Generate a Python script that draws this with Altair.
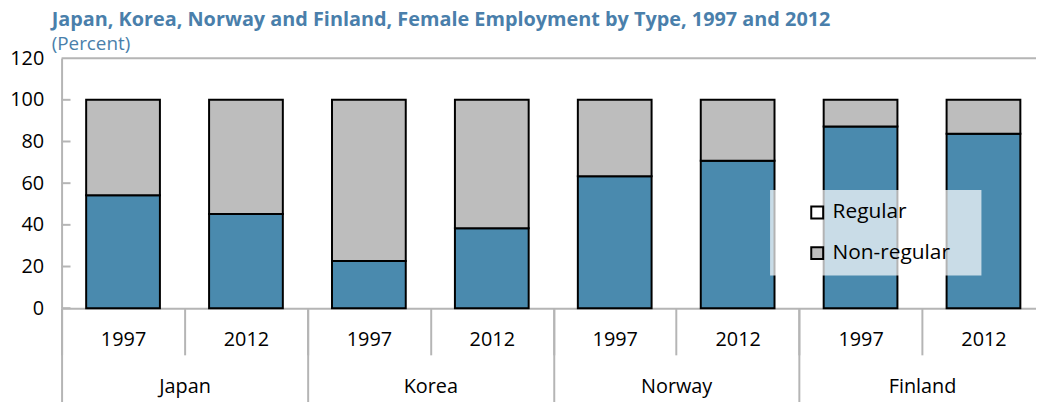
import altair as alt
import pandas as pd

countries = ["Japan", "Korea", "Norway", "Finland"]
years = ["1997", "2012"]
regular = [54.2, 45.2, 22.6, 38.4, 63.3, 70.8, 87.2, 83.7]
non_regular = [45.8, 54.8, 77.4, 61.6, 36.7, 29.2, 12.8, 16.3]
types = ["Regular", "Non-regular"]
bar_colors = ["#4a8aae", "#bdbdbd"]
legend_colors = ["#ffffff", "#bdbdbd"]
y_ticks = [0, 20, 40, 60, 80, 100, 120]

FONT = "Open Sans"
GRAY = "#b5b5b5"
TITLE_BLUE = "#4a7fab"
FS = 20

keys = []
rows = []
i = 0
for c in countries:
    for y in years:
        k = f"{c}|{y}"
        keys.append(k)
        rows.append({"key": k, "type": types[0], "value": regular[i], "order": 0})
        rows.append({"key": k, "type": types[1], "value": non_regular[i], "order": 1})
        i += 1
df = pd.DataFrame(rows)

X_RANGE = [0, 991]
Y_SCALE = alt.Scale(domain=[0, 120], nice=False)


def y_axis():
    return alt.Axis(
        title=None, values=y_ticks, ticks=False, grid=False,
        domainColor=GRAY, domainWidth=2, labelPadding=18,
        labelFont=FONT, labelFontSize=FS, labelColor="black",
    )


bars = alt.Chart(df).mark_bar(
    stroke="black", strokeWidth=2, width=alt.RelativeBandSize(0.6)
).encode(
    x=alt.X(
        "key:N", sort=keys,
        scale=alt.Scale(range=X_RANGE, paddingInner=0, paddingOuter=0),
        axis=alt.Axis(
            title=None, labelExpr="split(datum.label, '|')[1]", labelAngle=0,
            tickBand="extent", tickSize=47, tickColor=GRAY, tickWidth=2,
            domainColor=GRAY, domainWidth=2, labelPadding=-15,
            labelBaseline="middle", labelFont=FONT, labelFontSize=FS,
            labelColor="black", labelOverlap=False,
        ),
    ),
    y=alt.Y("value:Q", stack="zero", scale=Y_SCALE, axis=y_axis()),
    fill=alt.Fill("type:N", scale=alt.Scale(domain=types, range=bar_colors), legend=None),
    order=alt.Order("order:Q"),
)

country_layer = alt.Chart(pd.DataFrame({"country": countries})).mark_rule(opacity=0).encode(
    x=alt.X(
        "country:N", sort=countries,
        scale=alt.Scale(range=X_RANGE, paddingInner=0, paddingOuter=0),
        axis=alt.Axis(
            title=None, orient="bottom", domain=False, labelAngle=0,
            tickBand="extent", tickSize=95, tickColor=GRAY, tickWidth=2,
            labelPadding=-16, labelBaseline="middle", labelFont=FONT,
            labelFontSize=FS, labelColor="black", labelOverlap=False,
        ),
    )
)

ytick_layer = alt.Chart(pd.DataFrame({"value": y_ticks[:-1]})).mark_rule(
    color=GRAY, strokeWidth=2
).encode(
    y=alt.Y("value:Q", scale=Y_SCALE, axis=y_axis()),
    x=alt.value(0), x2=alt.value(9),
)

top_border = alt.Chart(pd.DataFrame({"value": [y_ticks[-1]]})).mark_rule(
    color=GRAY, strokeWidth=2
).encode(
    y=alt.Y("value:Q", scale=Y_SCALE, axis=y_axis()),
)

legend_layer = alt.Chart(pd.DataFrame({"type": types})).mark_square(opacity=0, size=144).encode(
    fill=alt.Fill(
        "type:N", sort=types,
        scale=alt.Scale(domain=types, range=legend_colors),
        legend=alt.Legend(
            title="MM", titleOrient="right", titleOpacity=0, titleFontSize=12,
            titlePadding=0,
            orient="none", legendX=714, legendY=133,
            fillColor="rgba(255,255,255,0.7)", padding=12,
            symbolOffset=25, labelOffset=5, rowPadding=19,
            symbolType="square", symbolSize=144, symbolOpacity=1,
            symbolStrokeColor="black", symbolStrokeWidth=2,
            labelFont=FONT, labelFontSize=21, labelColor="black",
        ),
    )
)

chart = alt.layer(bars, country_layer, ytick_layer, top_border, legend_layer).resolve_scale(
    x="independent", fill="independent"
).properties(
    width=982,
    height=252,
    autosize=alt.AutoSizeParams(type="none"),
    padding={"left": 54, "top": 49, "right": 0, "bottom": 93},
    title=alt.Title(
        text="Japan, Korea, Norway and Finland,  Female Employment by Type, 1997 and 2012",
        subtitle="(Percent)",
        anchor="start", frame="group", dx=-10, dy=11, offset=5,
        font=FONT, fontSize=20, fontWeight="bold", color=TITLE_BLUE,
        subtitleFont=FONT, subtitleFontSize=19, subtitleColor=TITLE_BLUE,
        subtitlePadding=5,
    ),
).configure_view(stroke=None)

chart.save("out.html", embed_options={"renderer": "svg", "actions": False})
